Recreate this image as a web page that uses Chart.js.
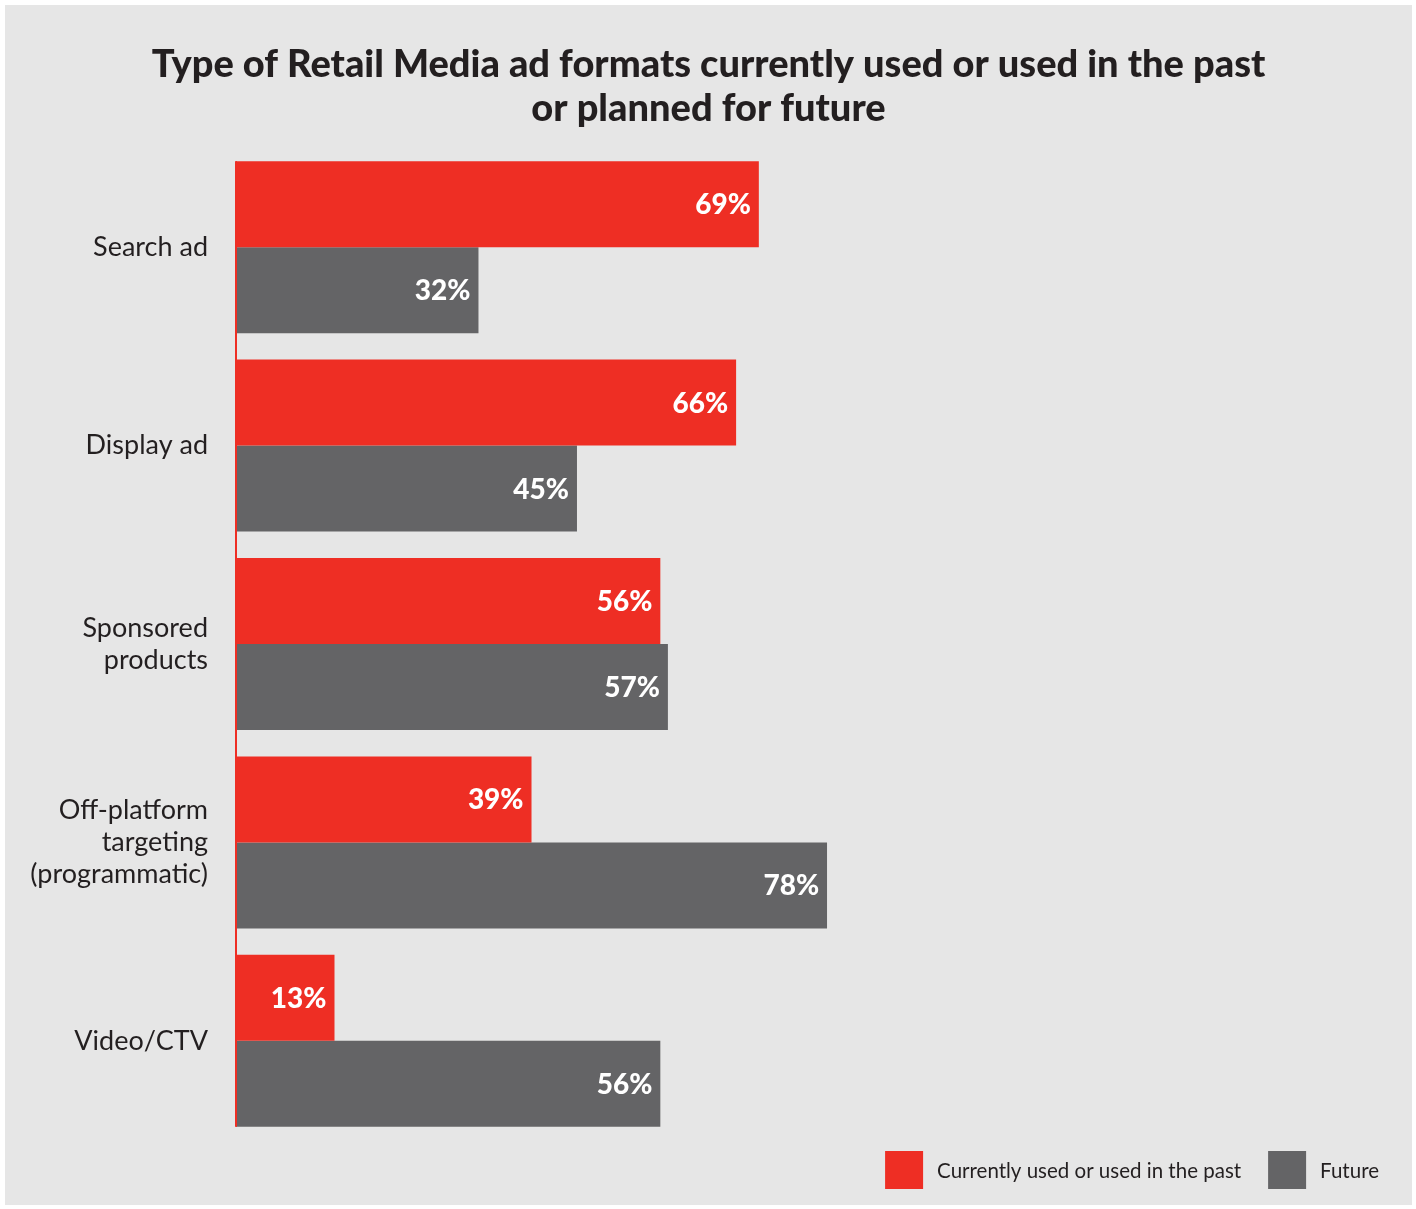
<!DOCTYPE html>
<html>
<head>
<meta charset="utf-8">
<script src="https://cdn.jsdelivr.net/npm/chart.js@4/dist/chart.umd.min.js"></script>
<style>
  html, body { margin: 0; padding: 0; background: #ffffff; }
  #panel { position: absolute; left: 5px; top: 5px; width: 1407px; height: 1200px; background: #e6e6e6; }
</style>
</head>
<body>
<div id="panel"><canvas id="chart"></canvas></div>
<script>
const categories = ["Search ad", "Display ad", ["Sponsored", "products"], ["Off-platform", "targeting", "(programmatic)"], "Video/CTV"];
const currentValues = [69, 66, 56, 39, 13];
const futureValues = [32, 45, 57, 78, 56];
const seriesNames = ["Currently used or used in the past", "Future"];
const titleLines = ["Type of Retail Media ad formats currently used or used in the past", "or planned for future"];

const RED = "#ee2e24";
const GREY = "#646466";
const INK = "#231f20";
const FONT = "Lato, 'Open Sans', sans-serif";

// white percentage labels inside the bar ends
const barLabels = {
  id: "barLabels",
  afterDatasetsDraw(chart) {
    const { ctx } = chart;
    ctx.save();
    ctx.font = `900 28px ${FONT}`;
    ctx.fillStyle = "#ffffff";
    ctx.textAlign = "right";
    ctx.textBaseline = "middle";
    chart.data.datasets.forEach((ds, i) => {
      chart.getDatasetMeta(i).data.forEach((bar, j) => {
        ctx.fillText(`${ds.data[j]}%`, bar.x - 8, bar.y + 1);
      });
    });
    ctx.restore();
  },
};

// red axis line from the first bar top to the last bar bottom
const axisLine = {
  id: "axisLine",
  afterDatasetsDraw(chart) {
    const first = chart.getDatasetMeta(0).data[0];
    const lastMeta = chart.getDatasetMeta(chart.data.datasets.length - 1).data;
    const last = lastMeta[lastMeta.length - 1];
    if (!first || !last) return;
    const { ctx, chartArea } = chart;
    ctx.save();
    ctx.fillStyle = RED;
    ctx.fillRect(chartArea.left - 1, first.y - first.height / 2, 2, last.y + last.height / 2 - (first.y - first.height / 2));
    ctx.restore();
  },
};

// legend at the bottom right
const bottomLegend = {
  id: "bottomLegend",
  afterDraw(chart) {
    const { ctx, chartArea } = chart;
    const box = 38, gap = 14, itemGap = 27;
    ctx.save();
    ctx.font = `20.5px ${FONT}`;
    ctx.textBaseline = "middle";
    ctx.textAlign = "left";
    const items = chart.data.datasets.map((ds) => ({ text: ds.label, color: ds.backgroundColor, w: ctx.measureText(ds.label).width }));
    const total = items.reduce((s, it) => s + box + gap + it.w, 0) + itemGap * (items.length - 1);
    let x = chart.width - 33 - total;
    const top = chartArea.bottom + 11;
    items.forEach((it) => {
      ctx.fillStyle = it.color;
      ctx.fillRect(x, top, box, box);
      ctx.fillStyle = INK;
      ctx.fillText(it.text, x + box + gap, top + box / 2 + 1);
      x += box + gap + it.w + itemGap;
    });
    ctx.restore();
  },
};

new Chart(document.getElementById("chart"), {
  type: "bar",
  data: {
    labels: categories,
    datasets: [
      { label: seriesNames[0], data: currentValues, backgroundColor: RED },
      { label: seriesNames[1], data: futureValues, backgroundColor: GREY },
    ],
  },
  options: {
    indexAxis: "y",
    responsive: true,
    maintainAspectRatio: false,
    animation: false,
    categoryPercentage: 0.867,
    barPercentage: 1,
    layout: { padding: { left: 0, right: 0, top: 0, bottom: 65 } },
    plugins: {
      legend: { display: false },
      tooltip: { enabled: false },
      title: {
        display: true,
        text: titleLines,
        color: INK,
        font: { family: FONT, size: 38, weight: 900, lineHeight: 44 / 38 },
        padding: { top: 38, bottom: 17 },
      },
    },
    scales: {
      x: { display: false, min: 0, max: 155.2 },
      y: {
        grid: { display: false },
        border: { display: false },
        ticks: {
          color: INK,
          padding: 20,
          font: { family: FONT, size: 27, lineHeight: 32 / 27 },
        },
        afterFit(scale) { scale.width = 231; },
      },
    },
  },
  plugins: [axisLine, barLabels, bottomLegend],
});
</script>
</body>
</html>
